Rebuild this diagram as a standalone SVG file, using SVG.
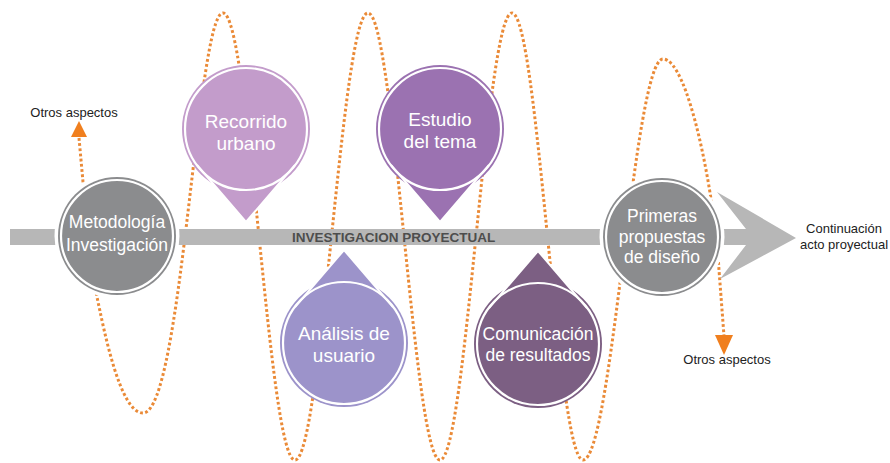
<svg xmlns="http://www.w3.org/2000/svg" width="890" height="463" viewBox="0 0 890 463">
<style>
.dots{fill:none;stroke:#ea8a37;stroke-width:3;stroke-dasharray:2.8 2.4}
.ah{fill:#f07f1e}
.lbl{font-family:"Liberation Sans",Arial,sans-serif;font-size:13px;fill:#222;text-anchor:middle}
.nt{font-family:"Liberation Sans",Arial,sans-serif;fill:#fff;text-anchor:middle}
.ring{fill:none;stroke:#fff;stroke-width:2.2}
.slit{fill:none;stroke:#fff;stroke-width:2}
.gap{fill:#fff}
.gray{fill:#8b8c8e}
.axis{fill:#b7b7b7}
</style>
<rect x="0" y="0" width="890" height="463" fill="#fff"/>
<g id="connectors">
<path class="dots" d="M79,138 L83,182 L97,297 C104,330 120,413 143,413 C182,413 197,13 223,13 C249.5,13 268.5,460 295,460 C321.5,460 341.5,13 368,13 C394.2,13 413.8,460 440,460 C466.2,460 485.8,13 512,13 C537.9,13 557.1,460 583,460 C612,460 634,59 663,59 C688,59 714,190 719,270 L724,336"/>
<polygon class="ah" points="71,137 87,137 79,121"/>
<polygon class="ah" points="715,335 733,335 724,355"/>
<text class="lbl" x="74" y="117">Otros aspectos</text>
<text class="lbl" x="727" y="364">Otros aspectos</text>
</g>
<g id="axis">
<rect class="axis" x="10" y="229" width="736" height="16"/>
<polygon class="axis" points="717,192 796,238 720,279 746,245 746,229"/>
<text x="292" y="242" font-family="'Liberation Sans',Arial,sans-serif" font-size="13.5" font-weight="bold" fill="#4d4d4d">INVESTIGACION PROYECTUAL</text>
<text class="lbl" x="844" y="233">Continuación</text>
<text class="lbl" x="844" y="249">acto proyectual</text>
</g>
<g id="metodologia">
<circle class="gap" cx="117" cy="236" r="62.5"/>
<circle class="gray" cx="117" cy="236" r="59"/>
<circle class="ring" cx="117" cy="236" r="56"/>
<text class="nt" font-size="17.5" x="117" y="228">Metodología</text>
<text class="nt" font-size="17.5" x="117" y="251">Investigación</text>
</g>
<g id="recorrido" fill="#c39ccb">
<circle cx="246" cy="129" r="64"/>
<polygon points="197,165 295,165 246,222"/>
<polyline class="slit" points="197,165 246,222 295,165"/>
<circle class="ring" cx="246" cy="129" r="61"/>
<text class="nt" font-size="19" x="246" y="128">Recorrido</text>
<text class="nt" font-size="19" x="246" y="150">urbano</text>
</g>
<g id="estudio" fill="#9b72b1">
<circle cx="440" cy="129" r="64"/>
<polygon points="391,165 489,165 440,222"/>
<polyline class="slit" points="391,165 440,222 489,165"/>
<circle class="ring" cx="440" cy="129" r="61"/>
<text class="nt" font-size="19" x="440" y="126">Estudio</text>
<text class="nt" font-size="19" x="440" y="148">del tema</text>
</g>
<g id="analisis" fill="#9c93ca">
<circle cx="344" cy="343" r="64"/>
<polygon points="295,307 393,307 344,250"/>
<polyline class="slit" points="295,307 344,250 393,307"/>
<circle class="ring" cx="344" cy="343" r="61"/>
<text class="nt" font-size="19" x="344" y="340">Análisis de</text>
<text class="nt" font-size="19" x="344" y="362">usuario</text>
</g>
<g id="comunicacion" fill="#7c5f83">
<circle cx="538" cy="344" r="64"/>
<polygon points="489,308 587,308 538,251"/>
<polyline class="slit" points="489,308 538,251 587,308"/>
<circle class="ring" cx="538" cy="344" r="61"/>
<text class="nt" font-size="17.5" x="538" y="340">Comunicación</text>
<text class="nt" font-size="17.5" x="538" y="361">de resultados</text>
</g>
<g id="primeras">
<circle class="gap" cx="662" cy="237" r="62.5"/>
<circle class="gray" cx="662" cy="237" r="59"/>
<circle class="ring" cx="662" cy="237" r="56"/>
<text class="nt" font-size="17.5" x="662" y="222">Primeras</text>
<text class="nt" font-size="17.5" x="662" y="243">propuestas</text>
<text class="nt" font-size="17.5" x="662" y="263">de diseño</text>
</g>
</svg>
